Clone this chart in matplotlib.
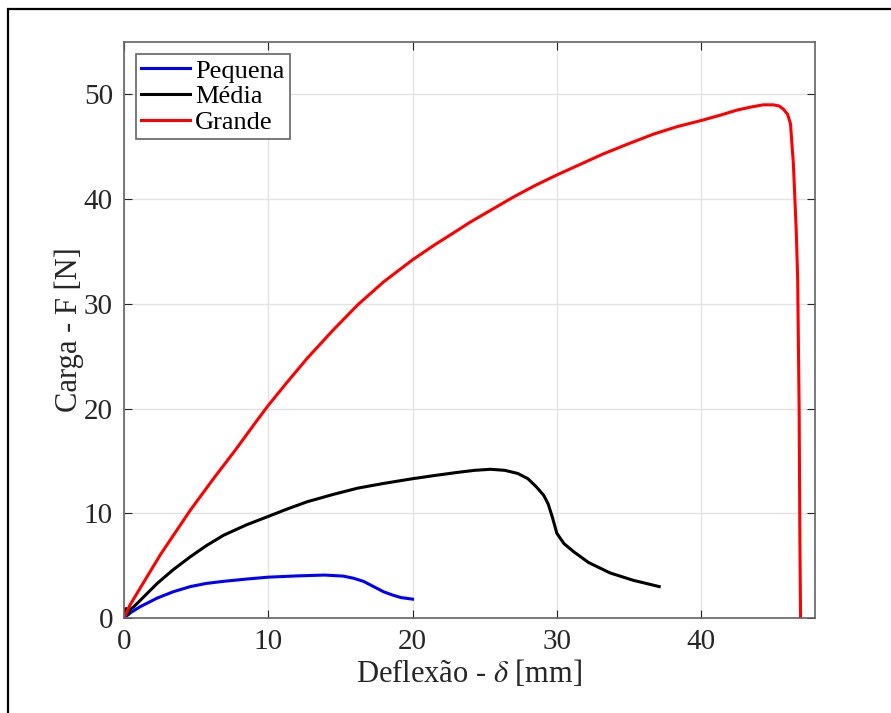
import numpy as np
import matplotlib.pyplot as plt
from matplotlib.patches import Rectangle

plt.rcParams['font.family'] = ['Liberation Serif', 'DejaVu Serif']
plt.rcParams['mathtext.fontset'] = 'stix'

# Pequena (blue)
peq_x = [0, 0.5, 1.15, 2.3, 3.4, 4.6, 5.7, 6.9, 8.5, 10, 12, 13.9, 15.2, 15.9, 16.6, 17.3, 18.0, 18.6, 19.2, 20.0]
peq_y = [0, 0.55, 1.1, 1.9, 2.5, 3.0, 3.3, 3.5, 3.72, 3.9, 4.02, 4.1, 4.0, 3.8, 3.5, 3.0, 2.5, 2.2, 1.95, 1.8]

# Media (black)
med_x = [0, 0.15, 0.3, 0.45, 0.7, 1.5, 2.3, 3.4, 4.6, 5.7, 6.9, 8.5, 10, 11.3, 12.7, 14.5, 16.2, 18, 20,
         21.5, 23.1, 24.3, 25.4, 26.4, 27.3, 28.0, 28.6, 29.1, 29.4, 29.7, 30.0, 30.5, 31.2, 32.2,
         33.7, 35.3, 37.1]
med_y = [0, 0.9, 0.35, 0.85, 1.1, 2.2, 3.3, 4.6, 5.85, 6.9, 7.9, 8.9, 9.7, 10.4, 11.1, 11.8, 12.4, 12.85, 13.3,
         13.6, 13.9, 14.1, 14.2, 14.1, 13.8, 13.3, 12.5, 11.7, 10.9, 9.6, 8.1, 7.1, 6.3, 5.3,
         4.3, 3.6, 3.0]

# Grande (red)
gra_x = [0, 0.4, 0.9, 2.5, 4.6, 6.2, 7.7, 9.24, 10, 11.3, 12.7, 14.5, 16.2, 18, 20, 21.5, 23.1, 24.0,
         25.5, 27.0, 28.5, 30, 31.6, 33.2, 35, 36.7, 38.3, 40, 41.3, 42.5, 43.5, 44.3, 45.0, 45.4,
         45.7, 46.0, 46.2, 46.4, 46.6, 46.7, 46.8, 46.85, 46.9]
gra_y = [0, 1.2, 2.35, 6.0, 10.3, 13.3, 16.0, 18.9, 20.3, 22.5, 24.8, 27.5, 29.9, 32.1, 34.2, 35.6, 37.0, 37.8,
         39.0, 40.2, 41.3, 42.3, 43.3, 44.3, 45.3, 46.2, 46.9, 47.5, 48.0, 48.5, 48.8, 49.0, 49.0, 48.9,
         48.6, 48.1, 47.2, 43.4, 37.0, 32.3, 20, 8, 0]

fig = plt.figure(figsize=(8.91, 7.13), dpi=100)
ax = fig.add_axes([124 / 891, 95 / 713, (815 - 124) / 891, (618 - 42) / 713])

ax.plot(peq_x, peq_y, color='#0000ff', lw=2.2, label='Pequena', solid_joinstyle='round')
ax.plot(med_x, med_y, color='black', lw=2.2, label='Média', solid_joinstyle='round')
ax.plot(gra_x, gra_y, color='#ff0000', lw=2.2, label='Grande', solid_joinstyle='round')

ax.set_xlim(0, 47.9)
ax.set_ylim(0, 55)
ax.set_xticks([0, 10, 20, 30, 40])
ax.set_yticks([0, 10, 20, 30, 40, 50])
ax.grid(True, color='#e3e3e3', lw=1)
ax.set_axisbelow(True)
ax.tick_params(direction='in', top=True, right=True, labelsize=21, colors='#262626', length=6, pad=8)
for s in ax.spines.values():
    s.set_color('#636363')
    s.set_linewidth(1.2)

ax.set_xlabel(r'Deflexão - $\delta$ [mm]', fontsize=22, color='#262626', labelpad=2)
ax.set_ylabel('Carga - F [N]', fontsize=22, color='#262626', labelpad=0)

leg = ax.legend(loc='upper left', fontsize=19, fancybox=False, edgecolor='#636363',
                handlelength=1.85, handletextpad=0.2, labelspacing=0.08, borderpad=0.2,
                borderaxespad=0.45, framealpha=1)
leg.get_frame().set_linewidth(1.2)

# outer frame
fig.add_artist(Rectangle((8 / 891, -0.1), 1.2, (713 - 9) / 713 + 0.1, transform=fig.transFigure,
                         fill=False, edgecolor='black', lw=1.6))

fig.savefig('out.png', dpi=100)
